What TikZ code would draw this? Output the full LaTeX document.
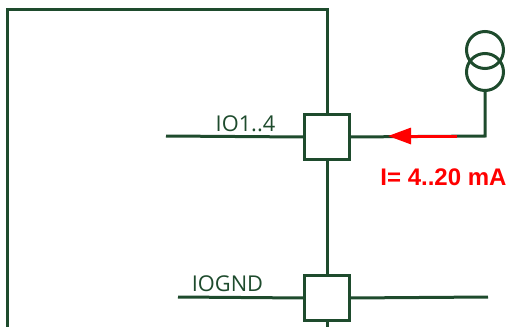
\documentclass[tikz,border=0pt]{standalone}
\usepackage{fontspec}
\setmainfont{Open Sans}
\newfontfamily\labelfont{Liberation Sans}
\usetikzlibrary{arrows.meta}
\definecolor{wire}{RGB}{30,75,45}
\definecolor{lred}{RGB}{255,0,0}
\tikzset{
  wireline/.style={draw=wire, line width=3pt},
  pinbox/.style={draw=wire, line width=3.2pt, fill=white, minimum width=45pt, minimum height=45pt, inner sep=0pt, outer sep=0pt},
  pinlabel/.style={text=wire, font=\fontsize{21.8}{24}\selectfont, inner sep=0pt},
  curlabel/.style={text=lred, font=\labelfont\bfseries\fontsize{24}{26}\selectfont, inner sep=0pt},
  srccircle/.style={draw=wire, line width=3pt, circle, minimum size=37pt, inner sep=0pt}
}
\begin{document}
\begin{tikzpicture}[x=1pt,y=-1pt]
\useasboundingbox (0,0) rectangle (507,327);
% frame
\coordinate (fl) at (7,335);
\coordinate (ftl) at (7,9);
\coordinate (ftr) at (327,9);
\coordinate (fb) at (327,335);
% boxes
\node[pinbox] (b1) at (327,137) {};
\node[pinbox] (b2) at (327,298) {};
\draw[wireline] (fl) -- (ftl) -- (ftr) -- (b1.north);
\draw[wireline] (b1.south) -- (b2.north);
\draw[wireline] (b2.south) -- (fb);
% IO1..4
\coordinate (io) at (166,136);
\draw[wireline] (io) -- (b1.west);
\node[pinlabel, anchor=base] (iol) at (245.5,131) {IO1..4};
% IOGND
\coordinate (gl) at (178,297);
\coordinate (gr) at (488,297);
\draw[wireline] (gl) -- (b2.west);
\draw[wireline] (b2.east) -- (gr);
\node[pinlabel, anchor=base] (gndl) at (227.5,291) {IOGND};
% current source
\node[srccircle] (c1) at (485,50) {};
\node[srccircle] (c2) at (485,72) {};
\coordinate (corner) at (485,136);
\draw[wireline] (c2.south) -- (corner) -- (b1.east);
\coordinate (ra) at (457,136);
\coordinate (rb) at (388,136);
\draw[draw=lred, line width=3pt, -{Triangle[length=23pt,width=16pt]}] (ra) -- (rb);
\node[curlabel, anchor=base] (cur) at (443.5,185) {I= 4..20 mA};
\end{tikzpicture}
\end{document}
